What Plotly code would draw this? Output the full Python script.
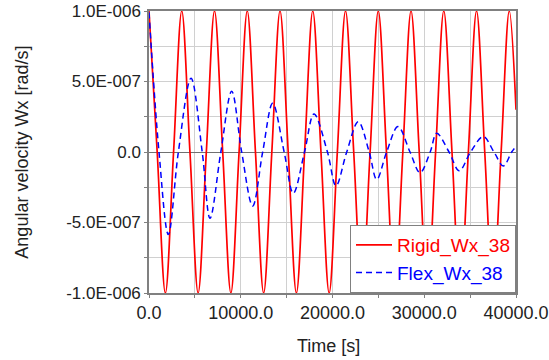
import plotly.graph_objects as go

# ---- data ----
# Rigid_Wx_38: extrema and zero crossings, time [s]
red_t = [0, 893, 1785, 2678, 3570, 4463, 5355, 6248, 7140, 8033, 8925, 9818,
         10710, 11603, 12495, 13388, 14280, 15173, 16065, 16958, 17850, 18743,
         19635, 20528, 21420, 22313, 23205, 24098, 24990, 25883, 26775, 27668,
         28560, 29453, 30345, 31238, 32130, 33023, 33915, 34808, 35700, 36593,
         37485, 38378, 39270, 40000]
red_v = [1.0e-6, 0.0, -1.0e-6, 0.0, 1.0e-6, 0.0, -1.0e-6, 0.0, 1.0e-6, 0.0, -1.0e-6, 0.0,
         1.0e-6, 0.0, -1.0e-6, 0.0, 1.0e-6, 0.0, -1.0e-6, 0.0, 1.0e-6, 0.0,
         -1.0e-6, 0.0, 1.0e-6, 0.0, -1.0e-6, 0.0, 1.0e-6, 0.0, -1.0e-6, 0.0,
         1.0e-6, 0.0, -1.0e-6, 0.0, 1.0e-6, 0.0, -1.0e-6, 0.0, 1.0e-6, 0.0,
         -1.0e-6, 0.0, 1.0e-6, 0.3e-6]

# Flex_Wx_38: extrema and zero crossings, time [s]
blue_t = [0, 1090, 2110, 3200, 4580, 5800, 6650, 7830, 9010, 10100, 11300, 12390,
          13480, 14730, 15730, 16950, 17985, 19450, 20380, 21550, 22810, 24000,
          24820, 25900, 27140, 28450, 29540, 30650, 31360, 32700, 33820, 35050,
          36440, 37600, 38620, 39530, 40000]
blue_v = [0.99e-6, 0.0, -0.585e-6, 0.0, 0.523e-6, 0.0, -0.47e-6, 0.0, 0.43e-6, 0.0, -0.383e-6, 0.0,
          0.345e-6, 0.0, -0.293e-6, 0.0, 0.27e-6, 0.0, -0.24e-6, 0.0, 0.215e-6, 0.0,
          -0.195e-6, 0.0, 0.18e-6, 0.0, -0.147e-6, 0.0, 0.133e-6, 0.0, -0.133e-6, 0.0,
          0.109e-6, 0.0, -0.099e-6, 0.0, 0.04e-6]

x_ticks = [0, 10000, 20000, 30000, 40000]
x_minor = [5000, 15000, 25000, 35000]
y_ticks = [-1.0e-6, -5.0e-7, 0.0, 5.0e-7, 1.0e-6]
y_ticktext = ["-1.0E-006", "-5.0E-007", "0.0", "5.0E-007", "1.0E-006"]
y_minor = [-7.5e-7, -2.5e-7, 2.5e-7, 7.5e-7]

FONT = "Liberation Sans, Arial, sans-serif"
TXT = "#222222"

fig = go.Figure()
fig.add_trace(go.Scatter(
    x=red_t, y=red_v, mode="lines",
    name="<span style='color:#ff0000'>Rigid_Wx_38</span>",
    line=dict(color="#ff0000", width=1.7, shape="spline", smoothing=1.0),
))
fig.add_trace(go.Scatter(
    x=blue_t, y=blue_v, mode="lines",
    name="<span style='color:#0000ff'>Flex_Wx_38</span>",
    line=dict(color="#0000ff", width=1.5, dash="6px,4px", shape="spline", smoothing=1.0),
))

axis_common = dict(
    automargin=False,
    showline=True, linecolor="#808080", linewidth=1.5, mirror=True,
    ticks="outside", ticklen=3, tickcolor="#808080", tickwidth=1,
    showgrid=True, gridcolor="#d0d0d0", gridwidth=1,
)

fig.update_xaxes(
    range=[0, 40000], tickvals=x_ticks, tickformat=".1f",
    tickfont=dict(family=FONT, size=18, color=TXT),
    zeroline=False,
    minor=dict(tickvals=x_minor, ticks="outside", ticklen=3, tickcolor="#808080",
               showgrid=True, gridcolor="#d0d0d0", gridwidth=1),
    **axis_common,
)
fig.update_yaxes(
    range=[-1.0e-6, 1.0e-6], tickvals=y_ticks, ticktext=y_ticktext,
    tickfont=dict(family=FONT, size=17, color=TXT),
    zeroline=True, zerolinecolor="#707070", zerolinewidth=1.2,
    minor=dict(tickvals=y_minor, ticks="outside", ticklen=3, tickcolor="#808080",
               showgrid=True, gridcolor="#d0d0d0", gridwidth=1),
    **axis_common,
)

fig.update_layout(
    template="none",
    width=549, height=360,
    margin=dict(l=149, r=33, t=11, b=67, autoexpand=False),
    paper_bgcolor="white", plot_bgcolor="white",
    font=dict(family=FONT, color=TXT),
    showlegend=True,
    legend=dict(
        x=1, y=0, xanchor="right", yanchor="bottom",
        bgcolor="white", bordercolor="#808080", borderwidth=1,
        font=dict(family=FONT, size=19),
        itemwidth=36,
        tracegroupgap=0,
    ),
    annotations=[
        dict(text="Time [s]", xref="paper", yref="paper", x=0.49, y=-0.188,
             xanchor="center", yanchor="middle", showarrow=False,
             font=dict(family=FONT, size=18, color=TXT)),
        dict(text="Angular velocity Wx [rad/s]", xref="paper", yref="paper",
             x=-0.347, y=0.5, xanchor="center", yanchor="middle", textangle=-90,
             showarrow=False, font=dict(family=FONT, size=18, color=TXT)),
    ],
)

fig.write_html("out.html")
